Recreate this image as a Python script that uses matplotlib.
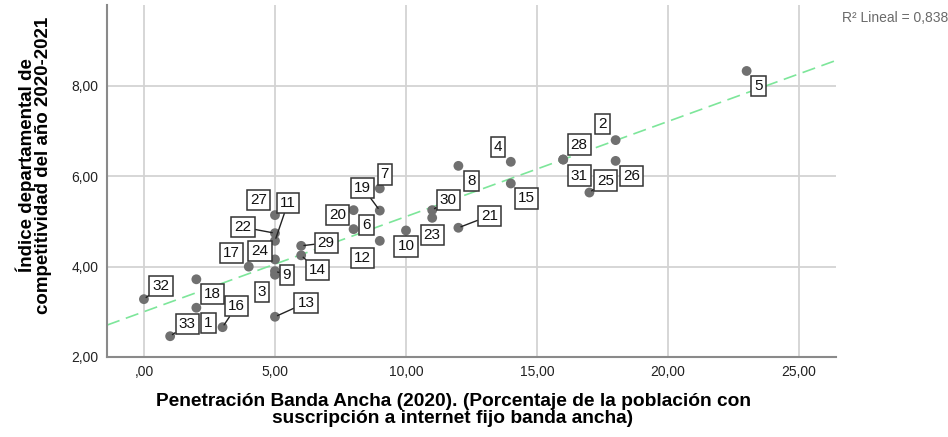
import numpy as np
import matplotlib
matplotlib.use('Agg')
import matplotlib.pyplot as plt

plt.rcParams['font.family'] = ['Liberation Sans Narrow', 'Liberation Sans', 'DejaVu Sans']

# departamento id, banda ancha (%), indice competitividad
ids = [1, 2, 3, 4, 5, 6, 7, 8, 9, 10, 11, 12, 13, 14, 15, 16, 17,
       18, 19, 20, 21, 22, 23, 24, 25, 26, 27, 28, 29, 30, 31, 32, 33]
banda = [2.0, 18.0, 5.0, 14.0, 23.0, 8.0, 9.0, 12.0, 5.0, 10.0, 5.0, 9.0, 5.0, 6.0, 14.0, 3.0, 4.0,
         2.0, 9.0, 8.0, 12.0, 5.0, 11.0, 5.0, 17.0, 18.0, 5.0, 16.0, 6.0, 11.0, 16.0, 0.0, 1.0]
indice = [3.09, 6.80, 3.82, 6.32, 8.33, 4.83, 5.73, 6.23, 3.90, 4.80, 4.57, 4.57, 2.89, 4.25, 5.84, 2.66, 4.00,
          3.72, 5.24, 5.25, 4.86, 4.74, 5.08, 4.16, 5.64, 6.34, 5.14, 6.37, 4.46, 5.25, 6.37, 3.28, 2.46]

# where each label box sits relative to its point (pixels, y up)
label_off = {1: (12, -15), 2: (-13, 16), 3: (-13, -17), 4: (-13, 15), 5: (12, -15), 6: (13, 4),
             7: (5, 14), 8: (13, -15), 9: (12, -4), 10: (0, -16), 11: (13, 38), 12: (-17, -17),
             13: (31, 14), 14: (16, -15), 15: (16, -15), 16: (14, 21), 17: (-17, 14), 18: (16, -15),
             19: (-17, 23), 20: (-16, -5), 21: (31, 12), 22: (-32, 6), 23: (0, -17), 24: (-15, 8),
             25: (16, 12), 26: (16, -15), 27: (-16, 15), 28: (16, 15), 29: (25, 3), 30: (16, 10),
             31: (16, -16), 32: (17, 13), 33: (17, 12)}
with_leader = {9, 11, 13, 14, 16, 19, 21, 22, 25, 29, 30, 32, 33}

x_ticks = [0, 5, 10, 15, 20, 25]
x_ticklabels = [',00', '5,00', '10,00', '15,00', '20,00', '25,00']
y_ticks = [2, 4, 6, 8]
y_ticklabels = ['2,00', '4,00', '6,00', '8,00']

fig = plt.figure(figsize=(9.48, 4.37), dpi=100)
ax = fig.add_axes([107 / 948, 80 / 437, 729 / 948, 352 / 437])

xlim = (-1.41, 26.41)
ax.set_xlim(*xlim)
ax.set_ylim(2.0, 9.79)

# linear fit
slope, inter = np.polyfit(banda, indice, 1)
xs = np.array(xlim)
ax.plot(xs, inter + slope * xs, color='#7de69a', lw=1.2, dashes=(8, 4), zorder=2)

ax.scatter(banda, indice, s=50, color='#707070', zorder=4, edgecolors='none')

for i, xv, yv in zip(ids, banda, indice):
    dx, dy = label_off[i]
    arrow = None
    if i in with_leader:
        arrow = dict(arrowstyle='-', color='#222222', lw=1, shrinkA=0, shrinkB=2)
    ax.annotate(str(i), (xv, yv), xytext=(dx, dy), textcoords='offset pixels',
                ha='center', va='center', fontsize=11, color='#111111', zorder=5,
                bbox=dict(boxstyle='square,pad=0.2', fc='white', ec='#333333', lw=1.1),
                arrowprops=arrow)

ax.set_xticks(x_ticks)
ax.set_xticklabels(x_ticklabels)
ax.set_yticks(y_ticks)
ax.set_yticklabels(y_ticklabels)
ax.tick_params(length=0, labelsize=10, colors='#222222', pad=6)
ax.grid(True, color='#d3d3d3', lw=1.3)
ax.set_axisbelow(True)
for s in ['top', 'right']:
    ax.spines[s].set_visible(False)
for s in ['left', 'bottom']:
    ax.spines[s].set_color('#8a8a8a')
    ax.spines[s].set_linewidth(1.5)

fig.text(453 / 948, 1 - 410 / 437,
         'Penetración Banda Ancha (2020). (Porcentaje de la población con\nsuscripción a internet fijo banda ancha)',
         ha='center', va='center', fontsize=13.8, fontweight='bold', linespacing=0.95,
         family=['Liberation Sans', 'DejaVu Sans'])
fig.text(34 / 948, 1 - 165 / 437,
         'Índice departamental de\ncompetitividad del año 2020-2021',
         ha='center', va='center', rotation=90, fontsize=13.5, fontweight='bold', linespacing=0.9,
         family=['Liberation Sans', 'DejaVu Sans'])
fig.text(948 / 948, 1 - 18 / 437, 'R² Lineal = 0,838', ha='right', va='center',
         fontsize=10, color='#6a6a6a')

fig.savefig('out.png', dpi=100)
